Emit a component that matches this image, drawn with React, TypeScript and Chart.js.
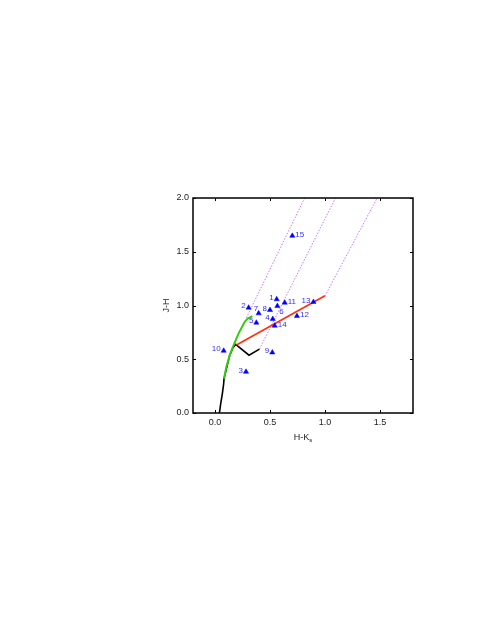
import React, { useEffect, useRef } from "react";
import { Chart, registerables } from "chart.js";

Chart.register(...registerables);

// ---- data ----
const starIds = ["1", "2", "3", "4", "5", "6", "7", "8", "9", "10", "11", "12", "13", "14", "15"];
const starHK = [0.561, 0.306, 0.282, 0.525, 0.376, 0.567, 0.397, 0.5, 0.521, 0.079, 0.634, 0.745, 0.895, 0.543, 0.703];
const starJH = [1.058, 0.98, 0.383, 0.874, 0.84, 0.995, 0.927, 0.958, 0.563, 0.579, 1.026, 0.902, 1.033, 0.812, 1.648];

const dwarfHK = [0.04, 0.052, 0.067, 0.079, 0.082, 0.134, 0.165, 0.188, 0.309, 0.404];
const dwarfJH = [0.0, 0.088, 0.181, 0.274, 0.32, 0.538, 0.61, 0.638, 0.538, 0.594];

const giantHK = [0.082, 0.103, 0.134, 0.152, 0.176, 0.215, 0.27, 0.3, 0.34];
const giantJH = [0.32, 0.429, 0.538, 0.587, 0.647, 0.741, 0.849, 0.88, 0.902];

const cttsHK = [0.195, 1.0];
const cttsJH = [0.633, 1.09];

const redden1HK = [0.285, 0.815];
const redden1JH = [0.885, 2.0];
const redden2HK = [0.404, 1.095];
const redden2JH = [0.594, 2.0];
const redden3HK = [1.0, 1.474];
const redden3JH = [1.09, 2.0];

const xTickValues = [0.0, 0.5, 1.0, 1.5];
const yTickValues = [0.0, 0.5, 1.0, 1.5, 2.0];
const xRange = [-0.2, 1.8];
const yRange = [0.0, 2.0];
const xTitle = "H-K";
const xTitleSub = "s";
const yTitle = "J-H";

// label placement (style only): L = left, R = right, UL = up-left, DR = down-right
const labelPlacement = ["L", "L", "L", "L", "L", "DR", "UL", "L", "L", "L", "R", "R", "L", "R", "R"];

const FONT = '"Liberation Sans", Arial, Helvetica, sans-serif';

const pts = (xs: number[], ys: number[]) => xs.map((v, i) => ({ x: v, y: ys[i] }));

const annotPlugin = {
  id: "annot",
  afterDraw(chart: any) {
    const { ctx, chartArea: a, scales } = chart;
    const x = scales.x;
    const y = scales.y;
    ctx.save();
    // frame
    ctx.strokeStyle = "#000";
    ctx.lineWidth = 1.5;
    ctx.strokeRect(a.left, a.top, a.right - a.left, a.bottom - a.top);
    // inward ticks on all sides
    ctx.lineWidth = 1;
    const tl = 3;
    ctx.beginPath();
    xTickValues.forEach((v) => {
      const px = Math.round(x.getPixelForValue(v)) + 0.5;
      ctx.moveTo(px, a.bottom);
      ctx.lineTo(px, a.bottom - tl);
      ctx.moveTo(px, a.top);
      ctx.lineTo(px, a.top + tl);
    });
    yTickValues.forEach((v) => {
      const py = Math.round(y.getPixelForValue(v)) + 0.5;
      ctx.moveTo(a.left, py);
      ctx.lineTo(a.left + tl, py);
      ctx.moveTo(a.right, py);
      ctx.lineTo(a.right - tl, py);
    });
    ctx.stroke();

    // star labels
    ctx.font = `8px ${FONT}`;
    ctx.fillStyle = "#3030ff";
    ctx.textBaseline = "middle";
    starIds.forEach((id, i) => {
      const px = x.getPixelForValue(starHK[i]);
      const py = y.getPixelForValue(starJH[i]);
      const p = labelPlacement[i];
      if (p === "L") {
        ctx.textAlign = "right";
        ctx.fillText(id, px - 3, py - 1.5);
      } else if (p === "R") {
        ctx.textAlign = "left";
        ctx.fillText(id, px + 3, py - 1);
      } else if (p === "UL") {
        ctx.textAlign = "right";
        ctx.fillText(id, px - 0.5, py - 4.5);
      } else {
        ctx.textAlign = "left";
        ctx.fillText(id, px + 2, py + 6);
      }
    });

    // axis titles
    ctx.fillStyle = "#222";
    ctx.textBaseline = "alphabetic";
    ctx.font = `9px ${FONT}`;
    const w1 = ctx.measureText(xTitle).width;
    ctx.font = `6px ${FONT}`;
    const w2 = ctx.measureText(xTitleSub).width;
    const cx = (a.left + a.right) / 2;
    const sx = cx - (w1 + w2) / 2;
    ctx.textAlign = "left";
    ctx.font = `9px ${FONT}`;
    ctx.fillText(xTitle, sx, a.bottom + 27);
    ctx.font = `6px ${FONT}`;
    ctx.fillText(xTitleSub, sx + w1, a.bottom + 29);

    ctx.translate(a.left - 26, (a.top + a.bottom) / 2);
    ctx.rotate(-Math.PI / 2);
    ctx.font = `9px ${FONT}`;
    ctx.textAlign = "center";
    ctx.textBaseline = "middle";
    ctx.fillText(yTitle, 0, 0);
    ctx.restore();
  },
};

export default function App() {
  const ref = useRef<HTMLCanvasElement>(null);
  useEffect(() => {
    if (!ref.current) return;
    const line = (data: any, color: string, width: number, dash: number[] = []) => ({
      data,
      showLine: true,
      borderColor: color,
      borderWidth: width,
      borderDash: dash,
      pointRadius: 0,
      pointHoverRadius: 0,
      fill: false,
      tension: 0,
    });
    const chart = new Chart(ref.current, {
      type: "scatter",
      data: {
        datasets: [
          {
            data: pts(starHK, starJH),
            pointStyle: "triangle",
            pointRadius: 3,
            backgroundColor: "#0000ff",
            borderColor: "#0000ff",
            borderWidth: 0.5,
            showLine: false,
          } as any,
          line(pts(cttsHK, cttsJH), "#ff3311", 1.8),
          line(pts(giantHK, giantJH), "#33cc11", 2),
          line(pts(dwarfHK, dwarfJH), "#000000", 1.6),
          line(pts(redden1HK, redden1JH), "#cc77ff", 1, [1.5, 1.5]),
          line(pts(redden2HK, redden2JH), "#cc77ff", 1, [1.5, 1.5]),
          line(pts(redden3HK, redden3JH), "#cc77ff", 1, [1.5, 1.5]),
        ],
      },
      options: {
        responsive: false,
        animation: false,
        devicePixelRatio: 1,
        layout: { padding: { left: 153, top: 198, right: 78, bottom: 192 } },
        plugins: { legend: { display: false }, tooltip: { enabled: false } },
        events: [],
        scales: {
          x: {
            type: "linear",
            min: xRange[0],
            max: xRange[1],
            afterBuildTicks: (s: any) => {
              s.ticks = xTickValues.map((v) => ({ value: v }));
            },
            afterFit: (s: any) => {
              s.height = 30;
            },
            grid: { display: false, drawTicks: false },
            border: { display: false },
            ticks: {
              padding: 4,
              color: "#222",
              font: { family: FONT, size: 9 },
              callback: (v: any) => Number(v).toFixed(1),
            },
          },
          y: {
            type: "linear",
            min: yRange[0],
            max: yRange[1],
            afterBuildTicks: (s: any) => {
              s.ticks = yTickValues.map((v) => ({ value: v }));
            },
            afterFit: (s: any) => {
              s.width = 40;
            },
            grid: { display: false, drawTicks: false },
            border: { display: false },
            ticks: {
              padding: 4,
              color: "#222",
              font: { family: FONT, size: 9 },
              callback: (v: any) => Number(v).toFixed(1),
            },
          },
        },
      } as any,
      plugins: [annotPlugin],
    });
    return () => chart.destroy();
  }, []);
  return (
    <div style={{ position: "absolute", left: 0, top: 0, width: 491, height: 635, background: "#fff" }}>
      <canvas ref={ref} width={491} height={635} style={{ width: 491, height: 635, display: "block" }} />
    </div>
  );
}
